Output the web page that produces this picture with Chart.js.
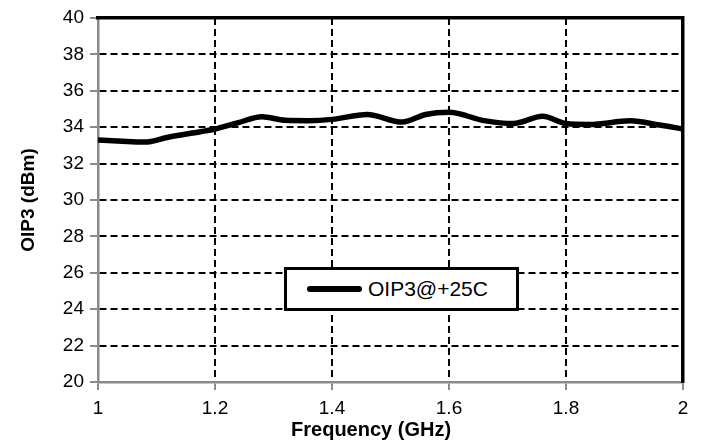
<!DOCTYPE html>
<html>
<head>
<meta charset="utf-8">
<script src="https://cdn.jsdelivr.net/npm/chart.js@4/dist/chart.umd.min.js"></script>
<style>
  html, body { margin: 0; padding: 0; background: #fff; }
  #wrap { position: relative; width: 701px; height: 444px; }
  #legendBox {
    position: absolute; left: 284px; top: 267px; width: 229px; height: 38px;
    border: 3px solid #000; background: #fff;
    display: flex; align-items: center;
    font-family: "Liberation Sans", Arial, sans-serif; font-size: 21px; color: #000;
  }
  #legendBox .swatch { width: 55px; height: 6px; border-radius: 3px; background: #000; margin-left: 20px; margin-right: 6px; }
</style>
</head>
<body>
<div id="wrap">
  <canvas id="chart" width="701" height="444"></canvas>
  <div id="legendBox"><span class="swatch"></span><span id="legendText"></span></div>
</div>
<script>
const seriesName = 'OIP3@+25C';
const frequencies = [1.00, 1.05, 1.08, 1.12, 1.175, 1.2, 1.24, 1.28, 1.32, 1.36, 1.4, 1.46, 1.52, 1.56, 1.6, 1.66, 1.71, 1.76, 1.8, 1.84, 1.91, 1.96, 2.0];
const oip3 = [33.3, 33.22, 33.18, 33.45, 33.75, 33.9, 34.25, 34.58, 34.38, 34.36, 34.43, 34.7, 34.28, 34.7, 34.82, 34.36, 34.2, 34.6, 34.2, 34.15, 34.35, 34.12, 33.9];

// Achsenbeschriftung
const xTicks = [1, 1.2, 1.4, 1.6, 1.8, 2];
const xTickLabels = ['1', '1.2', '1.4', '1.6', '1.8', '2'];
const yTicks = [20, 22, 24, 26, 28, 30, 32, 34, 36, 38, 40];
const xTitle = 'Frequency (GHz)';
const yTitle = 'OIP3 (dBm)';

const FONT = '"Liberation Sans", Arial, sans-serif';
const AXIS_GRAY = '#8a8a8a';

document.getElementById('legendText').textContent = seriesName;

// Rand-Gitterlinien ausblenden (dort liegen die Achsen / der Rahmen)
const gridColor = (ctx, edges) => edges.includes(ctx.tick?.value) ? 'rgba(0,0,0,0)' : '#000';

new Chart(document.getElementById('chart').getContext('2d'), {
    type: 'line',
    data: {
        datasets: [{
            label: seriesName,
            data: frequencies.map((f, i) => ({ x: f, y: oip3[i] })),
            borderColor: '#000',
            borderWidth: 5.5,
            pointRadius: 0,
            cubicInterpolationMode: 'monotone',
            fill: false,
            xAxisID: 'x',
            yAxisID: 'y'
        }]
    },
    options: {
        responsive: false,
        animation: false,
        layout: { padding: { top: 18, right: 18, left: 0, bottom: 0 } },
        plugins: { legend: { display: false }, tooltip: { enabled: false } },
        scales: {
            x: {
                type: 'linear',
                position: 'bottom',
                min: 1,
                max: 2,
                afterBuildTicks: axis => { axis.ticks = xTicks.map(v => ({ value: v })); },
                afterFit: axis => { axis.height = 62; },
                ticks: {
                    padding: 7,
                    color: '#000',
                    font: { family: FONT, size: 19 },
                    maxRotation: 0,
                    callback: (v) => xTickLabels[xTicks.findIndex(t => Math.abs(t - v) < 1e-6)]
                },
                grid: {
                    color: ctx => gridColor(ctx, [1, 2]),
                    lineWidth: 2,
                    tickLength: 8,
                    tickColor: AXIS_GRAY,
                    tickWidth: 2,
                    tickBorderDash: []
                },
                border: { color: AXIS_GRAY, width: 2.5, dash: [7, 4] },
                title: {
                    display: true,
                    text: xTitle + '\u00a0\u00a0\u00a0\u00a0\u00a0\u00a0\u00a0',
                    color: '#000',
                    font: { family: FONT, size: 20, weight: 'bold' },
                    padding: { top: 2, bottom: 2 }
                }
            },
            y: {
                type: 'linear',
                position: 'left',
                min: 20,
                max: 40,
                afterBuildTicks: axis => { axis.ticks = yTicks.map(v => ({ value: v })); },
                afterFit: axis => { axis.width = 98; },
                ticks: {
                    padding: 6,
                    color: '#000',
                    font: { family: FONT, size: 19 }
                },
                grid: {
                    color: ctx => gridColor(ctx, [20, 40]),
                    lineWidth: 2,
                    tickLength: 8,
                    tickColor: AXIS_GRAY,
                    tickWidth: 2,
                    tickBorderDash: []
                },
                border: { color: AXIS_GRAY, width: 2.5, dash: [7, 4] },
                title: {
                    display: true,
                    text: yTitle,
                    color: '#000',
                    font: { family: FONT, size: 19, weight: 'bold' },
                    padding: { top: 17, bottom: 17 }
                }
            },
            // Rahmen oben und rechts (schwarz, dick)
            xTop: {
                type: 'linear',
                position: 'top',
                min: 1,
                max: 2,
                afterFit: axis => { axis.height = 0; },
                ticks: { display: false },
                grid: { display: false, drawTicks: false },
                border: { color: '#000', width: 3.5 }
            },
            yRight: {
                type: 'linear',
                position: 'right',
                min: 20,
                max: 40,
                afterFit: axis => { axis.width = 0; },
                ticks: { display: false },
                grid: { display: false, drawTicks: false },
                border: { color: '#000', width: 3.5 }
            }
        }
    }
});
</script>
</body>
</html>
